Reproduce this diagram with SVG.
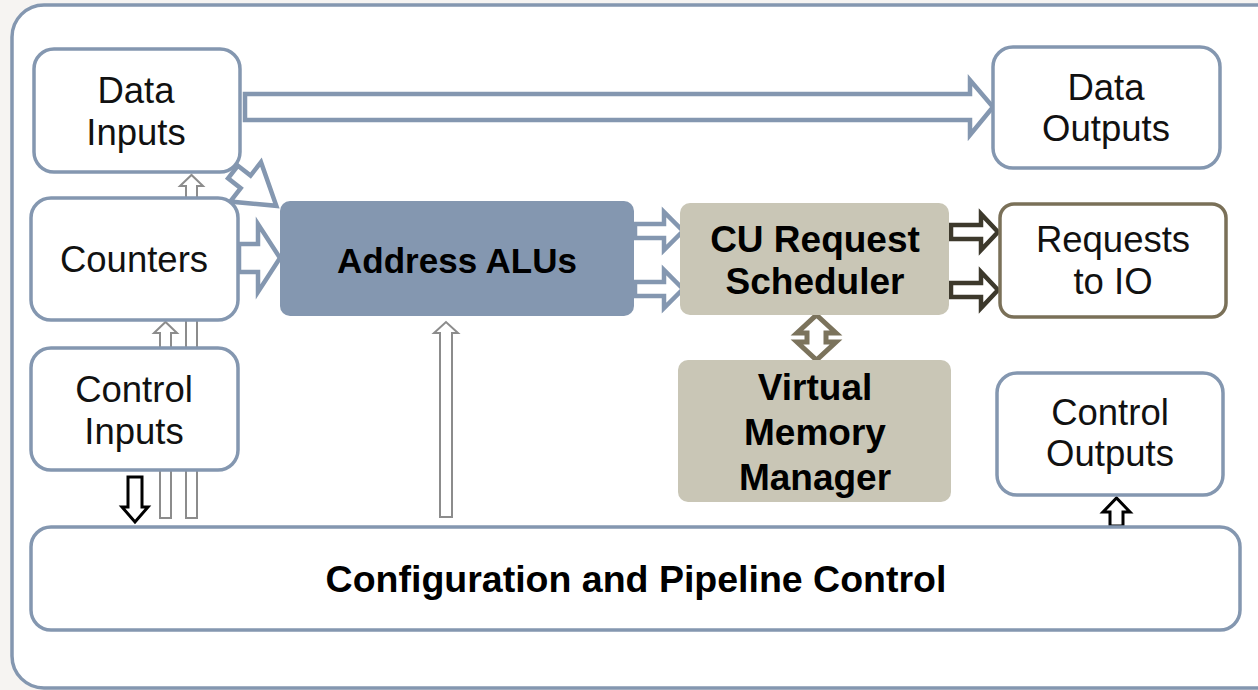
<svg xmlns="http://www.w3.org/2000/svg" width="1258" height="690" viewBox="0 0 1258 690">
  <style>
    .box { fill: #ffffff; stroke: #8497b0; stroke-width: 3.5; }
    .alu { fill: #8497b0; }
    .tan { fill: #c9c6b6; }
    .req { fill: #ffffff; stroke: #7a7058; stroke-width: 3.5; }
    .lbl { font-family: "Liberation Sans", Arial, sans-serif; font-size: 36.5px; fill: #111; text-anchor: middle; }
    .bold { font-family: "Liberation Sans", Arial, sans-serif; font-size: 37px; font-weight: bold; fill: #000; text-anchor: middle; }
    .blueArrow { fill: #ffffff; stroke: #8497b0; stroke-width: 4.5; stroke-linejoin: miter; }
    .darkArrow { fill: #ffffff; stroke: #3d392c; stroke-width: 4.5; stroke-linejoin: miter; }
    .oliveArrow { fill: #ffffff; stroke: #7b735c; stroke-width: 5; stroke-linejoin: miter; }
    .thin { fill: #ffffff; stroke: #8c8c8c; stroke-width: 2; }
    .black { fill: #ffffff; stroke: #000000; stroke-width: 3; }
  </style>

  <!-- page background and outer frame -->
  <rect x="0" y="0" width="1258" height="690" fill="#f6f4f2"/>
  <rect x="12" y="5" width="1290" height="683" rx="32" fill="#ffffff" stroke="#8497b0" stroke-width="3.5"/>

  <!-- connectors drawn first so shafts run behind the boxes -->
  <g id="connectors">
    <!-- long thin shafts from configuration block up to counters / data inputs -->
    <polygon class="thin" points="160,518 160,333 154,333 165.5,322 177,333 171,333 171,518"/>
    <polygon class="thin" points="186,518 186,186 180,186 191.5,175 203,186 197,186 197,518"/>
    <!-- configuration to address ALUs -->
    <polygon class="thin" points="440,517 440,333 434,333 446,322 458,333 452,333 452,517"/>

    <!-- data inputs to data outputs -->
    <polygon class="blueArrow" points="245,94 970,94 970,80 993,107 970,135 970,120 245,120"/>
    <!-- data inputs to address ALUs (diagonal) -->
    <g transform="translate(233,172) rotate(38)">
      <polygon class="blueArrow" points="0,-8 16,-8 16,-25 55,0 16,25 16,8 0,8"/>
    </g>
    <!-- counters to address ALUs -->
    <polygon class="blueArrow" points="239,244 258,244 258,224 280,258 258,292 258,272 239,272"/>
    <!-- address ALUs to scheduler -->
    <polygon class="blueArrow" points="635,224 664,224 664,212 683,231 664,250 664,238 635,238"/>
    <polygon class="blueArrow" points="635,282 664,282 664,270 683,289 664,308 664,296 635,296"/>
    <!-- scheduler to requests -->
    <polygon class="darkArrow" points="951,225 981,225 981,214 998,232 981,250 981,239 951,239"/>
    <polygon class="darkArrow" points="951,283 981,283 981,272 998,290 981,308 981,297 951,297"/>
    <!-- scheduler and virtual memory manager -->
    <polygon class="oliveArrow" points="816.5,315 836,333 826,333 826,342 836,342 816.5,360 797,342 807,342 807,333 797,333"/>
    <!-- control inputs down to configuration -->
    <polygon class="black" points="128,477 142,477 142,507 148,507 135,522 122,507 128,507"/>
    <!-- configuration up to control outputs -->
    <polygon class="black" points="1110,526 1110,512 1103,512 1116.5,498 1130,512 1123,512 1123,526"/>
  </g>

  <g id="data-inputs">
    <rect class="box" x="34" y="49" width="206" height="123" rx="20"/>
    <text class="lbl" x="136" y="103">Data</text>
    <text class="lbl" x="136" y="145">Inputs</text>
  </g>

  <g id="counters">
    <rect class="box" x="31" y="198" width="207" height="122" rx="20"/>
    <text class="lbl" x="134" y="272">Counters</text>
  </g>

  <g id="control-inputs">
    <rect class="box" x="31" y="348" width="207" height="122" rx="20"/>
    <text class="lbl" x="134" y="402">Control</text>
    <text class="lbl" x="134" y="444">Inputs</text>
  </g>

  <g id="address-alus">
    <rect class="alu" x="280" y="201" width="354" height="115" rx="10"/>
    <text class="bold" x="457" y="273" style="font-size:35px">Address ALUs</text>
  </g>

  <g id="cu-request-scheduler">
    <rect class="tan" x="680" y="203" width="269" height="112" rx="10"/>
    <text class="bold" x="815" y="252">CU Request</text>
    <text class="bold" x="815" y="294">Scheduler</text>
  </g>

  <g id="virtual-memory-manager">
    <rect class="tan" x="678" y="360" width="273" height="142" rx="10"/>
    <text class="bold" x="815" y="400">Virtual</text>
    <text class="bold" x="815" y="445">Memory</text>
    <text class="bold" x="815" y="490">Manager</text>
  </g>

  <g id="data-outputs">
    <rect class="box" x="993" y="47" width="227" height="121" rx="20"/>
    <text class="lbl" x="1106" y="100">Data</text>
    <text class="lbl" x="1106" y="141">Outputs</text>
  </g>

  <g id="requests-to-io">
    <rect class="req" x="1000" y="204" width="226" height="113" rx="14"/>
    <text class="lbl" x="1113" y="252">Requests</text>
    <text class="lbl" x="1113" y="294">to IO</text>
  </g>

  <g id="control-outputs">
    <rect class="box" x="997" y="373" width="226" height="122" rx="20"/>
    <text class="lbl" x="1110" y="425">Control</text>
    <text class="lbl" x="1110" y="466">Outputs</text>
  </g>

  <g id="configuration-pipeline-control">
    <rect class="box" x="31" y="527" width="1209" height="103" rx="20"/>
    <text class="bold" x="636" y="592" style="font-size:37.5px">Configuration and Pipeline Control</text>
  </g>
</svg>
